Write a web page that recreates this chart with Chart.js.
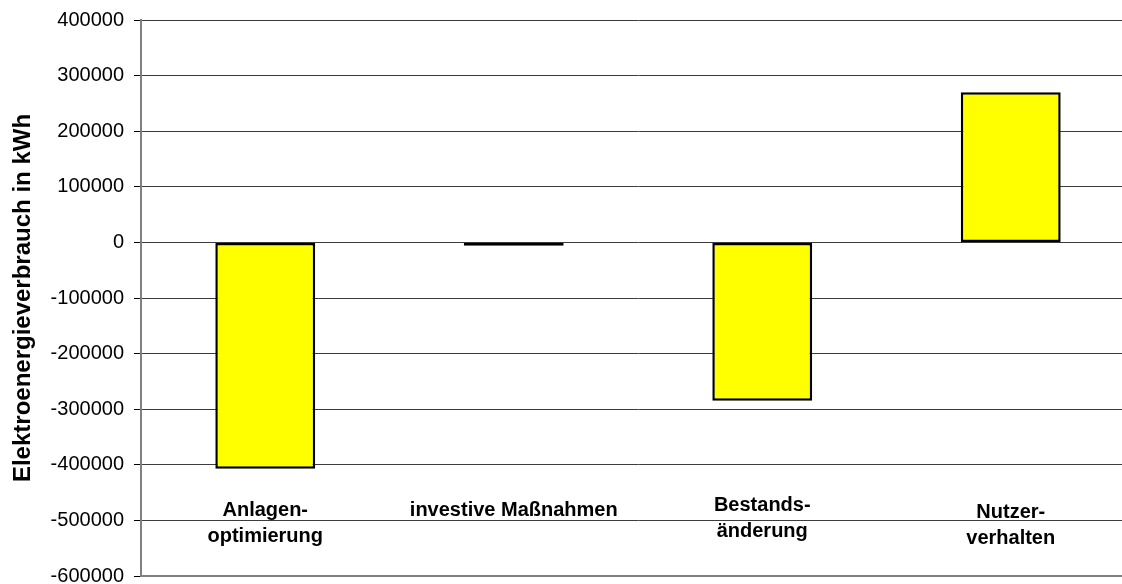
<!DOCTYPE html>
<html>
<head>
<meta charset="utf-8">
<script src="https://cdn.jsdelivr.net/npm/chart.js@4/dist/chart.umd.min.js"></script>
<style>
  html, body { margin: 0; padding: 0; background: #fff; overflow: hidden; }
  #wrap { width: 1122px; height: 584px; overflow: hidden; }
  canvas { display: block; margin-top: -2px; }
</style>
</head>
<body>
<div id="wrap"><canvas id="chart" width="1140" height="600"></canvas></div>
<script>
// categories (two-line labels as in the original)
const categories = [
  ["Anlagen-", "optimierung"],
  ["investive Maßnahmen"],
  ["Bestands-", "änderung"],
  ["Nutzer-", "verhalten"],
];
// change in electricity use, kWh
const values = [-407000, -6000, -285000, 270000];
const yTitle = "Elektroenergieverbrauch in kWh";
const yMin = -600000;
const yMax = 400000;
const yStep = 100000;

// vertical placement of the category captions inside the plot (px from the -500000 line)
const captionShift = [-10, -10, -15, -8];

const categoryCaptions = {
  id: "categoryCaptions",
  afterDatasetsDraw(chart) {
    const { ctx, scales } = chart;
    const base = scales.y.getPixelForValue(-500000);
    ctx.save();
    ctx.font = "bold 20px 'Liberation Sans', Arial, sans-serif";
    ctx.fillStyle = "#000";
    ctx.textAlign = "center";
    ctx.textBaseline = "middle";
    categories.forEach((lines, i) => {
      const x = scales.x.getPixelForValue(i);
      lines.forEach((line, j) => {
        ctx.fillText(line, x, base + captionShift[i] + j * 26);
      });
    });
    ctx.restore();
  },
};

new Chart(document.getElementById("chart").getContext("2d"), {
  type: "bar",
  data: {
    labels: categories.map((c) => c.join(" ")),
    datasets: [
      {
        data: values,
        backgroundColor: "#ffff00",
        borderColor: "#000",
        borderWidth: 2.5,
        borderSkipped: false,
        barPercentage: 0.402,
        categoryPercentage: 1,
      },
    ],
  },
  options: {
    responsive: false,
    animation: false,
    layout: {
      padding: { left: 0, top: 16, right: 5, bottom: 8 },
    },
    plugins: {
      legend: { display: false },
      tooltip: { enabled: false },
    },
    scales: {
      x: {
        grid: { display: false },
        ticks: { display: false },
        border: { display: true, color: "#808080", width: 2 },
        afterFit: (scale) => {
          scale.height = 0;
        },
      },
      y: {
        min: yMin,
        max: yMax,
        afterFit: (scale) => {
          scale.width = 141;
        },
        ticks: {
          stepSize: yStep,
          color: "#000",
          padding: 10,
          font: { family: "'Liberation Sans', Arial, sans-serif", size: 20 },
          callback: (v) => String(v),
        },
        grid: {
          color: "#3c3c3c",
          lineWidth: 1,
          tickLength: 7,
          tickColor: "#000",
        },
        border: { display: true, color: "#808080", width: 2 },
        title: {
          display: true,
          text: yTitle,
          color: "#000",
          padding: { top: 9, bottom: 0 },
          font: {
            family: "'Liberation Sans', Arial, sans-serif",
            size: 24,
            weight: "bold",
          },
        },
      },
    },
  },
  plugins: [categoryCaptions],
});
</script>
</body>
</html>
